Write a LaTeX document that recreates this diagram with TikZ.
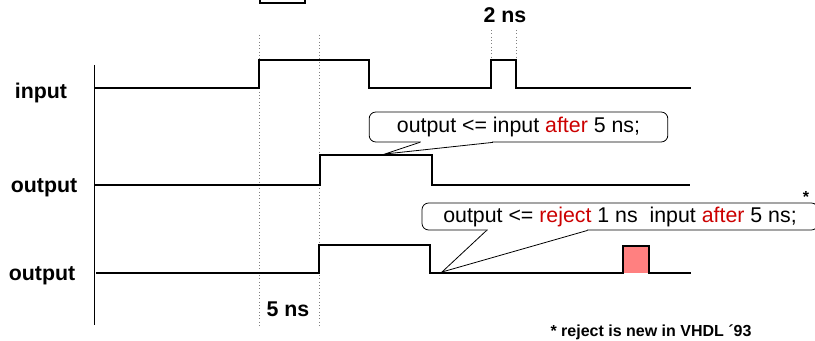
\documentclass[tikz,border=0pt]{standalone}
\usepackage{fontspec}
\setmainfont{Liberation Sans}
\usetikzlibrary{calc}
\definecolor{kwred}{RGB}{204,0,0}
\definecolor{spike}{RGB}{255,128,128}
\tikzset{
  wave/.style={line width=1.1pt},
  guide/.style={dotted, gray, line width=0.5pt},
  sig/.style={font=\fontsize{16}{19}\selectfont\bfseries, anchor=base},
  bubble/.style={draw, rounded corners=5pt, fill=white, line width=0.6pt, inner sep=0pt, font=\fontsize{16}{19}\selectfont}
}
\newcommand{\kw}[1]{\textcolor{kwred}{#1}}
\begin{document}
\begin{tikzpicture}[x=0.75pt,y=-0.75pt]
\useasboundingbox (0,0) rectangle (815,341);
\draw[guide] (259,35)--(259,326);
\draw[guide] (319,35)--(319,326);
\draw[guide] (491,30)--(491,60);
\draw[guide] (516,30)--(516,60);
\draw[line width=0.6pt] (94,65)--(94,325);
\draw[line width=0.8pt] (260,-10) rectangle (305,3);

\draw[wave] (95,88)--(259,88)--(259,60)--(369,60)--(369,88)--(491,88)--(491,60)--(516,60)--(516,88)--(691,88);
\draw[wave] (95,185)--(320,185)--(320,155)--(432,155)--(432,185)--(690,185);
\fill[spike] (623,246) rectangle (649,273);
\draw[wave] (96,273)--(319,273)--(319,245)--(430,245)--(430,273)--(623,273)--(623,246)--(649,246)--(649,273)--(691,273);

\node[sig] (in) at (41,99) {input};
\node[sig] (out1) at (44,193) {output};
\node[sig] (out2) at (42,281) {output};
\node[sig] (d2) at (505,23) {2 ns};
\node[sig] (d5) at (288,317) {5 ns};

\node[bubble, minimum width=224pt, minimum height=22.5pt] (c1) at (518.5,127) {output <= input \kw{after} 5 ns;};
\coordinate (t1) at (385,154);
\coordinate (f1a) at ($(c1.south west)+(51,0)$);
\coordinate (f1b) at ($(c1.south west)+(124,0)$);
\draw[white, line width=1.5pt] ($(f1a)+(1,0)$) -- ($(f1b)+(-1,0)$);
\draw[line width=0.6pt] (f1a) -- (t1) -- (f1b);

\node[bubble, minimum width=297pt, minimum height=20.25pt] (c2) at (620,216.5) {output <= \kw{reject} 1 ns~ input \kw{after} 5 ns;};
\coordinate (t2) at (442,272);
\coordinate (f2a) at ($(c2.south west)+(65,0)$);
\coordinate (f2b) at ($(c2.south west)+(166,0)$);
\draw[white, line width=1.5pt] ($(f2a)+(1,0)$) -- ($(f2b)+(-1,0)$);
\draw[line width=0.6pt] (f2a) -- (t2) -- (f2b);

\node[font=\fontsize{12}{14}\selectfont\bfseries] (star) at (806,197) {*};
\node[font=\fontsize{12}{14}\selectfont\bfseries, anchor=base] (note) at (651,337) {* reject is new in VHDL ´93};
\end{tikzpicture}
\end{document}
